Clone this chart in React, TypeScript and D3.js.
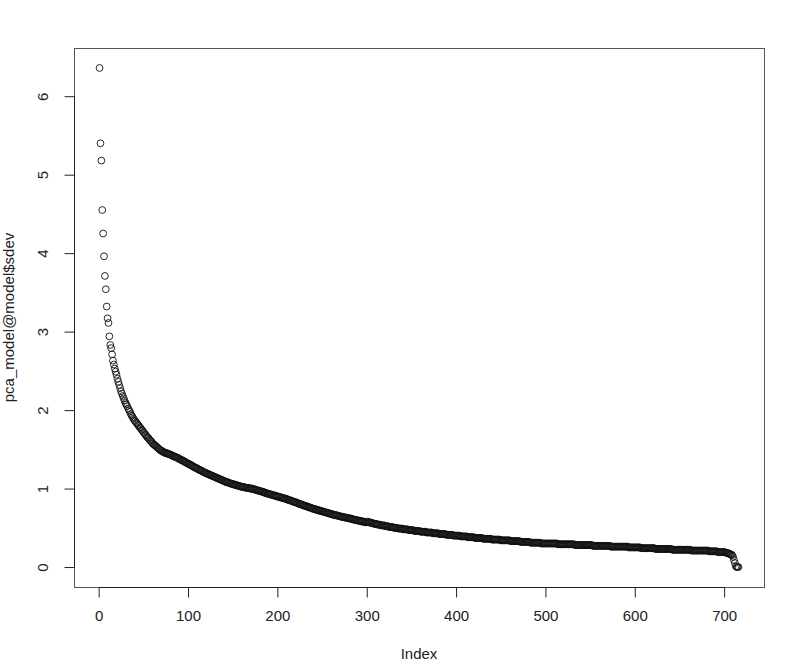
/**
 * SdevPlot - scree-style scatter of PCA component standard deviations
 * (R base-graphics look: open circles, boxed plot region, rotated y labels)
 */

import { useEffect, useRef } from 'react';
import * as d3 from 'd3';

// pca_model@model$sdev (index = position + 1)
const SDEV: number[] = [
  6.36, 5.40, 5.18, 4.55, 4.25, 3.96, 3.71, 3.54, 3.32, 3.17,
  3.11, 2.94, 2.83, 2.79, 2.71, 2.63, 2.58, 2.53, 2.49, 2.45,
  2.40, 2.36, 2.32, 2.28, 2.24, 2.21, 2.18, 2.15, 2.12, 2.09,
  2.07, 2.05, 2.02, 2.00, 1.98, 1.95, 1.93, 1.91, 1.89, 1.87,
  1.86, 1.84, 1.83, 1.81, 1.80, 1.78, 1.77, 1.75, 1.74, 1.72,
  1.71, 1.69, 1.68, 1.66, 1.65, 1.64, 1.62, 1.61, 1.60, 1.58,
  1.57, 1.56, 1.55, 1.54, 1.53, 1.52, 1.51, 1.50, 1.49, 1.48,
  1.48, 1.47, 1.46, 1.46, 1.45, 1.45, 1.45, 1.44, 1.44, 1.43,
  1.43, 1.42, 1.42, 1.41, 1.41, 1.40, 1.40, 1.39, 1.39, 1.38,
  1.37, 1.37, 1.36, 1.36, 1.35, 1.34, 1.34, 1.33, 1.32, 1.32,
  1.31, 1.31, 1.30, 1.29, 1.29, 1.28, 1.27, 1.27, 1.26, 1.26,
  1.25, 1.24, 1.24, 1.23, 1.23, 1.22, 1.21, 1.21, 1.20, 1.20,
  1.19, 1.19, 1.18, 1.18, 1.17, 1.17, 1.16, 1.16, 1.15, 1.15,
  1.14, 1.14, 1.13, 1.13, 1.12, 1.12, 1.11, 1.11, 1.10, 1.10,
  1.09, 1.09, 1.08, 1.08, 1.08, 1.07, 1.07, 1.06, 1.06, 1.06,
  1.05, 1.05, 1.05, 1.04, 1.04, 1.04, 1.03, 1.03, 1.03, 1.02,
  1.02, 1.02, 1.02, 1.01, 1.01, 1.01, 1.01, 1.01, 1.00, 1.00,
  1.00, 1.00, 0.99, 0.99, 0.99, 0.98, 0.98, 0.98, 0.97, 0.97,
  0.97, 0.96, 0.96, 0.96, 0.95, 0.95, 0.94, 0.94, 0.94, 0.93,
  0.93, 0.93, 0.92, 0.92, 0.92, 0.91, 0.91, 0.91, 0.90, 0.90,
  0.90, 0.89, 0.89, 0.89, 0.88, 0.88, 0.88, 0.87, 0.87, 0.87,
  0.86, 0.86, 0.85, 0.85, 0.85, 0.84, 0.84, 0.83, 0.83, 0.83,
  0.82, 0.82, 0.81, 0.81, 0.80, 0.80, 0.80, 0.79, 0.79, 0.78,
  0.78, 0.78, 0.77, 0.77, 0.76, 0.76, 0.76, 0.75, 0.75, 0.74,
  0.74, 0.74, 0.73, 0.73, 0.73, 0.72, 0.72, 0.72, 0.71, 0.71,
  0.71, 0.70, 0.70, 0.70, 0.69, 0.69, 0.69, 0.68, 0.68, 0.68,
  0.67, 0.67, 0.67, 0.66, 0.66, 0.66, 0.66, 0.65, 0.65, 0.65,
  0.64, 0.64, 0.64, 0.64, 0.63, 0.63, 0.63, 0.63, 0.62, 0.62,
  0.62, 0.62, 0.61, 0.61, 0.61, 0.60, 0.60, 0.60, 0.60, 0.59,
  0.59, 0.59, 0.59, 0.58, 0.58, 0.58, 0.58, 0.57, 0.57, 0.57,
  0.58, 0.57, 0.57, 0.57, 0.56, 0.56, 0.56, 0.55, 0.55, 0.55,
  0.55, 0.54, 0.54, 0.54, 0.54, 0.53, 0.53, 0.53, 0.53, 0.53,
  0.52, 0.52, 0.52, 0.52, 0.51, 0.51, 0.51, 0.51, 0.51, 0.50,
  0.50, 0.50, 0.50, 0.50, 0.49, 0.49, 0.49, 0.49, 0.49, 0.49,
  0.48, 0.48, 0.48, 0.48, 0.48, 0.48, 0.47, 0.47, 0.47, 0.47,
  0.47, 0.47, 0.46, 0.46, 0.46, 0.46, 0.46, 0.46, 0.46, 0.45,
  0.45, 0.45, 0.45, 0.45, 0.45, 0.45, 0.44, 0.44, 0.44, 0.44,
  0.44, 0.44, 0.44, 0.43, 0.43, 0.43, 0.43, 0.43, 0.43, 0.43,
  0.42, 0.42, 0.42, 0.42, 0.42, 0.42, 0.42, 0.42, 0.41, 0.41,
  0.41, 0.41, 0.41, 0.41, 0.41, 0.41, 0.40, 0.40, 0.40, 0.40,
  0.40, 0.40, 0.40, 0.40, 0.39, 0.39, 0.39, 0.39, 0.39, 0.39,
  0.39, 0.39, 0.38, 0.38, 0.38, 0.38, 0.38, 0.38, 0.38, 0.38,
  0.37, 0.37, 0.37, 0.37, 0.37, 0.37, 0.37, 0.37, 0.37, 0.36,
  0.36, 0.36, 0.36, 0.36, 0.36, 0.36, 0.36, 0.36, 0.36, 0.35,
  0.35, 0.35, 0.35, 0.35, 0.35, 0.35, 0.35, 0.35, 0.35, 0.34,
  0.34, 0.34, 0.34, 0.34, 0.34, 0.34, 0.34, 0.34, 0.34, 0.34,
  0.33, 0.33, 0.33, 0.33, 0.33, 0.33, 0.33, 0.33, 0.33, 0.33,
  0.33, 0.32, 0.32, 0.32, 0.32, 0.32, 0.32, 0.32, 0.32, 0.32,
  0.32, 0.32, 0.31, 0.31, 0.31, 0.31, 0.31, 0.31, 0.31, 0.31,
  0.31, 0.31, 0.31, 0.31, 0.30, 0.30, 0.30, 0.30, 0.30, 0.30,
  0.30, 0.30, 0.30, 0.30, 0.30, 0.30, 0.30, 0.30, 0.30, 0.30,
  0.30, 0.30, 0.30, 0.29, 0.29, 0.29, 0.29, 0.29, 0.29, 0.29,
  0.29, 0.29, 0.29, 0.29, 0.29, 0.29, 0.29, 0.29, 0.29, 0.29,
  0.29, 0.29, 0.28, 0.28, 0.28, 0.28, 0.28, 0.28, 0.28, 0.28,
  0.28, 0.28, 0.28, 0.28, 0.28, 0.28, 0.28, 0.28, 0.28, 0.28,
  0.28, 0.28, 0.27, 0.27, 0.27, 0.27, 0.27, 0.27, 0.27, 0.27,
  0.27, 0.27, 0.27, 0.27, 0.27, 0.27, 0.27, 0.27, 0.27, 0.27,
  0.27, 0.27, 0.26, 0.26, 0.26, 0.26, 0.26, 0.26, 0.26, 0.26,
  0.26, 0.26, 0.26, 0.26, 0.26, 0.26, 0.26, 0.26, 0.26, 0.26,
  0.26, 0.26, 0.25, 0.25, 0.25, 0.25, 0.25, 0.25, 0.25, 0.25,
  0.25, 0.25, 0.25, 0.25, 0.25, 0.25, 0.24, 0.24, 0.24, 0.24,
  0.24, 0.24, 0.24, 0.24, 0.24, 0.24, 0.24, 0.24, 0.24, 0.24,
  0.24, 0.24, 0.23, 0.23, 0.23, 0.23, 0.23, 0.23, 0.23, 0.23,
  0.23, 0.23, 0.23, 0.23, 0.23, 0.23, 0.23, 0.23, 0.23, 0.23,
  0.23, 0.22, 0.22, 0.22, 0.22, 0.22, 0.22, 0.22, 0.22, 0.22,
  0.22, 0.22, 0.22, 0.22, 0.22, 0.22, 0.22, 0.22, 0.22, 0.22,
  0.22, 0.22, 0.21, 0.21, 0.21, 0.21, 0.21, 0.21, 0.21, 0.21,
  0.21, 0.21, 0.21, 0.21, 0.21, 0.21, 0.21, 0.21, 0.21, 0.21,
  0.21, 0.21, 0.20, 0.20, 0.20, 0.20, 0.20, 0.20, 0.20, 0.20,
  0.20, 0.20, 0.19, 0.19, 0.19, 0.19, 0.19, 0.19, 0.19, 0.19,
  0.19, 0.18, 0.18, 0.18, 0.17, 0.17, 0.16, 0.16, 0.15, 0.13,
  0.09, 0.05, 0.01, 0.00, 0.00, 0.00,
];

const X_TICKS = [0, 100, 200, 300, 400, 500, 600, 700];
const Y_TICKS = [0, 1, 2, 3, 4, 5, 6];

const X_LABEL = 'Index';
const Y_LABEL = 'pca_model@model$sdev';

const WIDTH = 788;
const HEIGHT = 670;
const FONT = '"Liberation Sans", Arial, Helvetica, sans-serif';
const FONT_SIZE = '15px';
const INK = '#222';
const FRAME = '#555';

export default function App() {
  const svgRef = useRef<SVGSVGElement>(null);

  useEffect(() => {
    if (!svgRef.current) return;
    const svg = d3.select(svgRef.current);
    svg.selectAll('*').remove();

    // plot region (R default box)
    const plot = { left: 74, top: 48, right: 764, bottom: 587 };

    const n = SDEV.length;
    const yMax = d3.max(SDEV) ?? 1;
    const yMin = d3.min(SDEV) ?? 0;

    // R pads the data range by 4% on each side
    const xPad = (n - 1) * 0.04;
    const yPad = (yMax - yMin) * 0.04;

    const xScale = d3.scaleLinear()
      .domain([1 - xPad, n + xPad])
      .range([plot.left, plot.right]);

    const yScale = d3.scaleLinear()
      .domain([yMin - yPad, yMax + yPad])
      .range([plot.bottom, plot.top]);

    // Box
    svg.append('rect')
      .attr('x', plot.left + 0.5)
      .attr('y', plot.top + 0.5)
      .attr('width', plot.right - plot.left)
      .attr('height', plot.bottom - plot.top)
      .attr('fill', 'none')
      .attr('stroke', FRAME)
      .attr('stroke-width', 1);

    // X axis (line spans first to last tick, as in R)
    const xAxis = svg.append('g')
      .attr('transform', `translate(0.5,${plot.bottom + 0.5})`);
    xAxis.append('line')
      .attr('x1', xScale(X_TICKS[0]))
      .attr('x2', xScale(X_TICKS[X_TICKS.length - 1]))
      .attr('stroke', INK);
    xAxis.selectAll('line.tick')
      .data(X_TICKS)
      .join('line')
      .attr('class', 'tick')
      .attr('x1', d => xScale(d))
      .attr('x2', d => xScale(d))
      .attr('y1', 0)
      .attr('y2', 10)
      .attr('stroke', INK);
    xAxis.selectAll('text')
      .data(X_TICKS)
      .join('text')
      .attr('x', d => xScale(d))
      .attr('y', 30)
      .attr('text-anchor', 'middle')
      .attr('dominant-baseline', 'middle')
      .attr('font-family', FONT)
      .attr('font-size', FONT_SIZE)
      .attr('fill', INK)
      .text(d => String(d));

    // Y axis
    const yAxis = svg.append('g')
      .attr('transform', `translate(${plot.left + 0.5},0.5)`);
    yAxis.append('line')
      .attr('y1', yScale(Y_TICKS[0]))
      .attr('y2', yScale(Y_TICKS[Y_TICKS.length - 1]))
      .attr('stroke', INK);
    yAxis.selectAll('line.tick')
      .data(Y_TICKS)
      .join('line')
      .attr('class', 'tick')
      .attr('x1', 0)
      .attr('x2', -10)
      .attr('y1', d => yScale(d))
      .attr('y2', d => yScale(d))
      .attr('stroke', INK);
    yAxis.selectAll('text')
      .data(Y_TICKS)
      .join('text')
      .attr('transform', d => `translate(-30,${yScale(d)}) rotate(-90)`)
      .attr('text-anchor', 'middle')
      .attr('dominant-baseline', 'middle')
      .attr('font-family', FONT)
      .attr('font-size', FONT_SIZE)
      .attr('fill', INK)
      .text(d => String(d));

    // Points (pch = 1, open circles)
    svg.append('g')
      .selectAll('circle')
      .data(SDEV)
      .join('circle')
      .attr('cx', (_, i) => xScale(i + 1))
      .attr('cy', d => yScale(d))
      .attr('r', 3.4)
      .attr('fill', 'none')
      .attr('stroke', '#111')
      .attr('stroke-width', 0.9);

    // Axis titles
    svg.append('text')
      .attr('x', (plot.left + plot.right) / 2)
      .attr('y', 655)
      .attr('text-anchor', 'middle')
      .attr('dominant-baseline', 'middle')
      .attr('font-family', FONT)
      .attr('font-size', FONT_SIZE)
      .attr('fill', INK)
      .text(X_LABEL);

    svg.append('text')
      .attr('transform', `translate(10,${(plot.top + plot.bottom) / 2}) rotate(-90)`)
      .attr('text-anchor', 'middle')
      .attr('dominant-baseline', 'middle')
      .attr('font-family', FONT)
      .attr('font-size', FONT_SIZE)
      .attr('fill', INK)
      .text(Y_LABEL);
  }, []);

  return (
    <svg
      ref={svgRef}
      width={WIDTH}
      height={HEIGHT}
      style={{ position: 'absolute', left: 0, top: 0, background: '#fff' }}
      role="img"
      aria-label="Standard deviations of PCA components by index"
    />
  );
}
